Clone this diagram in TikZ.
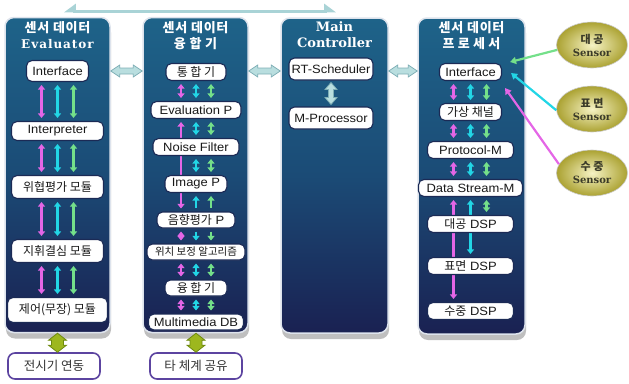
\documentclass[tikz,border=0pt]{standalone}
\usepackage{fontspec}
\setmainfont{Liberation Sans}[FakeStretch=1.08]
\newfontfamily\kr{Noto Sans CJK KR}
\newfontfamily\krt{Noto Sans CJK KR}[LetterSpace=6]
\newfontfamily\krw{Noto Sans CJK KR}[LetterSpace=25]
\newfontfamily\ser{DejaVu Serif}
\newfontfamily\serw{DejaVu Serif}[LetterSpace=8]
\usetikzlibrary{arrows.meta,shapes.misc,shapes.geometric,calc,shadows}
\pgfdeclarelayer{bg}\pgfdeclarelayer{arr}\pgfsetlayers{bg,arr,main}
\definecolor{pantop}{HTML}{1E6389}
\definecolor{panmid}{HTML}{1B4B76}
\definecolor{panbot}{HTML}{1A2152}
\definecolor{rim}{HTML}{DDE3EC}
\definecolor{boxline}{HTML}{1B2A55}
\definecolor{mag}{HTML}{E466E6}
\definecolor{cya}{HTML}{22D6E6}
\definecolor{grn}{HTML}{74E08A}
\definecolor{hfill}{HTML}{B9DEDF}
\definecolor{hline}{HTML}{7FAFB6}
\definecolor{limef}{HTML}{9DB71E}
\definecolor{limed}{HTML}{6E8A10}
\definecolor{purp}{HTML}{5C44A0}
\definecolor{balli}{HTML}{F6F3C4}
\definecolor{ballo}{HTML}{ABA232}
\definecolor{senstext}{HTML}{3A3A28}
\definecolor{topline}{HTML}{A9D3D6}
\newcommand\mo{-16pt}\newcommand\co{0pt}\newcommand\go{16pt}
\newcommand\trio[2]{%
 \draw[dbl,mag] ([xshift=\mo]#1.south) -- ([xshift=\mo]#2.north);
 \draw[dbl,cya] ([xshift=\co]#1.south) -- ([xshift=\co]#2.north);
 \draw[dbl,grn] ([xshift=\go]#1.south) -- ([xshift=\go]#2.north);}
\newcommand\hblock[2]{%
 \filldraw[harr] (#1) -- ($(#1)+(9,-6)$) -- ($(#1)+(9,-3)$) -- ($(#2)+(-9,-3)$) -- ($(#2)+(-9,-6)$) -- (#2)
   -- ($(#2)+(-9,6)$) -- ($(#2)+(-9,3)$) -- ($(#1)+(9,3)$) -- ($(#1)+(9,6)$) -- cycle;}
\newcommand\vblock[5]{% top, bottom, head half, shaft half, style
 \filldraw[#5] (#1) -- ($(#1)+(#3,7)$) -- ($(#1)+(#4,7)$) -- ($(#2)+(#4,-7)$) -- ($(#2)+(#3,-7)$) -- (#2)
   -- ($(#2)+(-#3,-7)$) -- ($(#2)+(-#4,-7)$) -- ($(#1)+(-#4,7)$) -- ($(#1)+(-#3,7)$) -- cycle;}
\begin{document}
\begin{tikzpicture}[x=1pt,y=-1pt,
  panel/.style={rectangle, rounded corners=9pt, draw=rim, line width=1.5pt,
     top color=pantop, bottom color=panbot, middle color=panmid,
     drop shadow={shadow xshift=1pt, shadow yshift=-6pt, opacity=0.25, fill=black}},
  ttl/.style={text=white, inner sep=0pt},
  tbox/.style={rectangle, rounded corners=5.5pt,
     draw=boxline, line width=1.1pt, fill=white, inner sep=1pt, minimum height=19pt,
     text=black!90, font=\fontsize{12}{12}\selectfont},
  bbox/.style={rectangle, rounded corners=7pt,
     draw=purp, line width=1.6pt, fill=white, inner sep=1pt, minimum height=26pt, minimum width=92pt,
     text=black!80, font=\kr\fontsize{12.5}{12.5}\selectfont},
  sensor/.style={ellipse, minimum width=71pt, minimum height=46pt, inner sep=0pt,
     inner color=balli, outer color=ballo, draw=black!20, line width=.6pt,
     text=senstext, align=center},
  dbl/.style={line width=2.4pt, {Triangle[width=7pt,length=4.5pt]}-{Triangle[width=7pt,length=4.5pt]}, shorten <=3pt, shorten >=3pt},
  up/.style={line width=2.4pt, {Triangle[width=7pt,length=4.5pt]}-, shorten <=3pt, shorten >=3pt},
  dn/.style={line width=2.4pt, -{Triangle[width=7pt,length=4.5pt]}, shorten <=3pt, shorten >=3pt},
  harr/.style={fill=hfill, draw=hline, line width=.8pt},
  garr/.style={fill=limef, draw=limed, line width=.8pt},
  sarr/.style={line width=2.2pt, -{Triangle[width=7pt,length=6pt]}}]
\useasboundingbox (0,0) rectangle (629,383);

% panels
\begin{pgfonlayer}{bg}
\node[panel, minimum width=105pt, minimum height=315pt] (p1) at (57.5,175) {};
\node[panel, minimum width=105pt, minimum height=315pt] (p2) at (195.5,175) {};
\node[panel, minimum width=107pt, minimum height=315pt] (p3) at (334.5,175.5) {};
\node[panel, minimum width=107pt, minimum height=316pt] (p4) at (471.5,176) {};
\end{pgfonlayer}

% titles
\node[ttl] (t1a) at (57.5,28) {\krt\bfseries\fontsize{13}{13}\selectfont 센서 데이터};
\node[ttl] (t1b) at (57.5,44) {\serw\bfseries\fontsize{12}{12}\selectfont Evaluator};
\node[ttl] (t2a) at (195.5,28) {\krt\bfseries\fontsize{13}{13}\selectfont 센서 데이터};
\node[ttl] (t2b) at (195.5,44) {\krt\bfseries\fontsize{13}{13}\selectfont 융 합 기};
\node[ttl] (t3a) at (334.5,27) {\ser\bfseries\fontsize{13}{13}\selectfont Main};
\node[ttl] (t3b) at (334.5,43) {\ser\bfseries\fontsize{13}{13}\selectfont Controller};
\node[ttl] (t4a) at (471.5,28) {\krt\bfseries\fontsize{13}{13}\selectfont 센서 데이터};
\node[ttl] (t4b) at (471.5,44) {\krw\bfseries\fontsize{13}{13}\selectfont 프로세서};

% panel 1 boxes
\node[tbox, minimum width=62pt, minimum height=21pt] (b11) at (57.5,71) {Interface};
\node[tbox, minimum width=92pt] (b12) at (57.5,131) {Interpreter};
\node[tbox, minimum width=92pt, minimum height=23pt] (b13) at (57.5,187) {\kr 위협평가 모듈};
\node[tbox, minimum width=92pt, minimum height=23pt] (b14) at (57.5,251) {\kr 지휘결심 모듈};
\node[tbox, minimum width=100pt, minimum height=25pt] (b15) at (57.5,310) {\kr 제어(무장) 모듈};

% panel 2 boxes
\node[tbox, minimum width=60pt, minimum height=17pt] (b21) at (196,72) {\kr 통 합 기};
\node[tbox, minimum width=90pt, minimum height=17pt] (b22) at (196,110) {Evaluation P};
\node[tbox, minimum width=86pt, minimum height=17pt] (b23) at (196,147) {Noise Filter};
\node[tbox, minimum width=62pt, minimum height=17pt] (b24) at (196,184) {Image P};
\node[tbox, minimum width=78pt, minimum height=16pt] (b25) at (196,220) {{\kr 음향평가} P};
\node[tbox, minimum width=98pt, minimum height=16pt, font=\kr\fontsize{10.5}{10.5}\selectfont] (b26) at (196,252) {위치 보정 알고리즘};
\node[tbox, minimum width=62pt, minimum height=16pt] (b27) at (196,288) {\kr 융 합 기};
\node[tbox, minimum width=95pt, minimum height=16pt] (b28) at (196,322) {Multimedia DB};

% panel 3 boxes
\node[tbox, minimum width=84pt, minimum height=22pt] (b31) at (331,69) {RT-Scheduler};
\node[tbox, minimum width=84pt, minimum height=22pt] (b32) at (331,118) {M-Processor};

% panel 4 boxes
\node[tbox, minimum width=62pt, minimum height=17pt] (b41) at (470.5,72) {Interface};
\node[tbox, minimum width=62pt, minimum height=17pt] (b42) at (470.5,112) {\kr 가상 채널};
\node[tbox, minimum width=86pt, minimum height=17pt] (b43) at (470.5,150) {Protocol-M};
\node[tbox, minimum width=104pt, minimum height=17pt] (b44) at (470.5,188) {Data Stream-M};
\node[tbox, minimum width=86pt, minimum height=17pt] (b45) at (470.5,224) {{\kr 대공} DSP};
\node[tbox, minimum width=86pt, minimum height=17pt] (b46) at (470.5,266) {{\kr 표면} DSP};
\node[tbox, minimum width=86pt, minimum height=17pt] (b47) at (470.5,311) {{\kr 수중} DSP};

% bottom boxes
\node[bbox] (e1) at (54,366) {전시기 연동};
\node[bbox] (e2) at (196,366) {타 체계 공유};

% sensors
\node[sensor] (s1) at (592,45) {{\kr\bfseries\fontsize{11}{11}\selectfont 대 공}\\[1pt]{\ser\bfseries\fontsize{10}{10}\selectfont Sensor}};
\node[sensor] (s2) at (592,109) {{\kr\bfseries\fontsize{11}{11}\selectfont 표 면}\\[1pt]{\ser\bfseries\fontsize{10}{10}\selectfont Sensor}};
\node[sensor] (s3) at (592,173) {{\kr\bfseries\fontsize{11}{11}\selectfont 수 중}\\[1pt]{\ser\bfseries\fontsize{10}{10}\selectfont Sensor}};

% inner arrows
\begin{pgfonlayer}{arr}
\renewcommand\mo{-16pt}\renewcommand\co{0pt}\renewcommand\go{16pt}
\trio{b11}{b12}\trio{b12}{b13}\trio{b13}{b14}\trio{b14}{b15}
\renewcommand\mo{-15pt}\renewcommand\co{0pt}\renewcommand\go{15pt}
\trio{b21}{b22}
\draw[dbl,mag] ([xshift=\mo]b22.south) -- ([xshift=\mo]b25.north);
\draw[dbl,cya] ([xshift=\co]b22.south) -- ([xshift=\co]b23.north);
\draw[dbl,grn] ([xshift=\go]b22.south) -- ([xshift=\go]b23.north);
\draw[dbl,cya] ([xshift=\co]b23.south) -- ([xshift=\co]b24.north);
\draw[dbl,grn] ([xshift=\go]b23.south) -- ([xshift=\go]b24.north);
\draw[up,cya] ([xshift=\co]b24.south) -- ([xshift=\co]b25.north);
\draw[up,grn] ([xshift=\go]b24.south) -- ([xshift=\go]b25.north);
\draw[dbl,mag] ([xshift=\mo]b25.south) -- ([xshift=\mo]b26.north);
\draw[dn,cya] ([xshift=\co]b25.south) -- ([xshift=\co]b26.north);
\draw[dn,grn] ([xshift=\go]b25.south) -- ([xshift=\go]b26.north);
\trio{b26}{b27}\trio{b27}{b28}
\renewcommand\mo{-17pt}\renewcommand\co{0pt}\renewcommand\go{16pt}
\trio{b41}{b42}\trio{b42}{b43}\trio{b43}{b44}
\draw[dbl,mag] ([xshift=\mo]b44.south) -- ([xshift=\mo]b47.north);
\draw[dbl,cya] ([xshift=\co]b44.south) -- ([xshift=\co]b46.north);
\draw[dbl,grn] ([xshift=\go]b44.south) -- ([xshift=\go]b45.north);
\end{pgfonlayer}

% block arrows between panels
\coordinate (h1a) at (p1.east |- b11); \coordinate (h1b) at (p2.west |- b11);
\coordinate (h2a) at (p2.east |- b11); \coordinate (h2b) at (p3.west |- b11);
\coordinate (h3a) at (p3.east |- b11); \coordinate (h3b) at (p4.west |- b11);
\hblock{h1a}{h1b}\hblock{h2a}{h2b}\hblock{h3a}{h3b}
\coordinate (m1) at ([yshift=-2pt]b31.south); \coordinate (m2) at ([yshift=2pt]b32.north);
\vblock{m1}{m2}{6}{2.5}{harr}
\coordinate (g1a) at (p1.south); \coordinate (g1b) at (e1.north -| p1.south);
\coordinate (g2a) at (p2.south -| e2); \coordinate (g2b) at (e2.north);
\vblock{g1a}{g1b}{9}{6}{garr}
\vblock{g2a}{g2b}{9}{6}{garr}

% top line
\coordinate (tl) at (64,11); \coordinate (tr) at (336,11);
\draw[topline, line width=3pt, {Triangle[harpoon,swap,width=14pt,length=10pt]}-{Triangle[harpoon,width=14pt,length=10pt]}] (tl) -- (tr);

% sensor arrows
\draw[sarr, grn] (s1.188) -- ([shift={(8,-10)}]b41.east);
\draw[sarr, cya] (s2.182) -- ([shift={(9,1)}]b41.east);
\draw[sarr, mag] (s3.165) -- ([shift={(3,16)}]b41.east);
\end{tikzpicture}
\end{document}
